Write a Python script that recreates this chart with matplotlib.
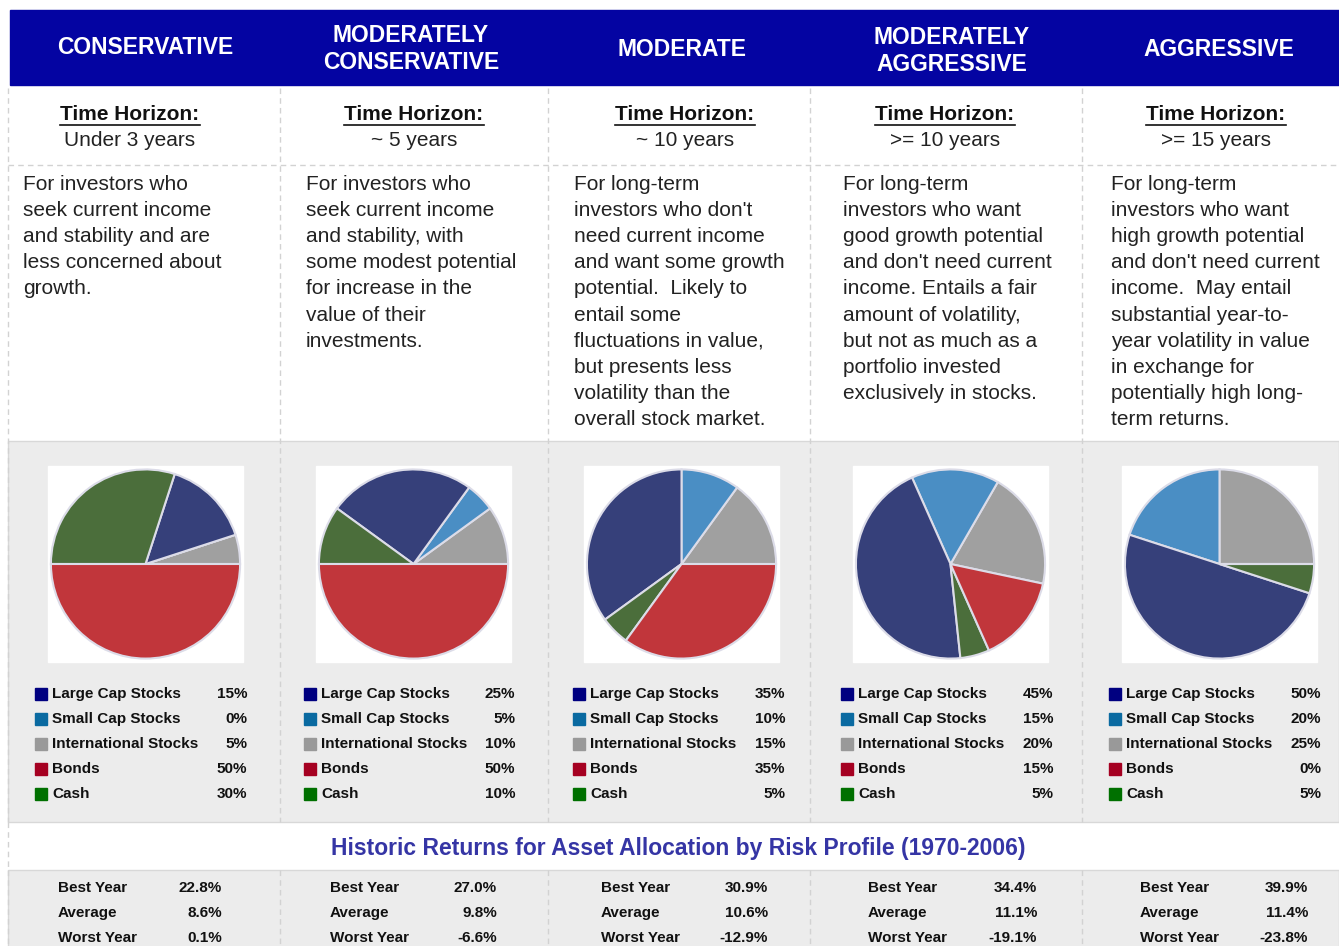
import matplotlib.pyplot as plt
from matplotlib.patches import Rectangle

# ---- data ----
profiles = ['CONSERVATIVE', 'MODERATELY\nCONSERVATIVE', 'MODERATE',
            'MODERATELY\nAGGRESSIVE', 'AGGRESSIVE']
horizons = ['Under 3 years', '~ 5 years', '~ 10 years', '>= 10 years', '>= 15 years']
descriptions = [
    ['For investors who', 'seek current income', 'and stability and are',
     'less concerned about', 'growth.'],
    ['For investors who', 'seek current income', 'and stability, with',
     'some modest potential', 'for increase in the', 'value of their', 'investments.'],
    ['For long-term', "investors who don't", 'need current income',
     'and want some growth', 'potential.  Likely to', 'entail some',
     'fluctuations in value,', 'but presents less', 'volatility than the',
     'overall stock market.'],
    ['For long-term', 'investors who want', 'good growth potential',
     "and don't need current", 'income. Entails a fair', 'amount of volatility,',
     'but not as much as a', 'portfolio invested', 'exclusively in stocks.'],
    ['For long-term', 'investors who want', 'high growth potential',
     "and don't need current", 'income.  May entail', 'substantial year-to-',
     'year volatility in value', 'in exchange for', 'potentially high long-',
     'term returns.'],
]
assets = ['Large Cap Stocks', 'Small Cap Stocks', 'International Stocks', 'Bonds', 'Cash']
large_cap = [15, 25, 35, 45, 50]
small_cap = [0, 5, 10, 15, 20]
intl = [5, 10, 15, 20, 25]
bonds = [50, 50, 35, 15, 0]
cash = [30, 10, 5, 5, 5]
stat_labels = ['Best Year', 'Average', 'Worst Year']
best_year = [22.8, 27.0, 30.9, 34.4, 39.9]
average = [8.6, 9.8, 10.6, 11.1, 11.4]
worst_year = [0.1, -6.6, -12.9, -19.1, -23.8]
title = 'Historic Returns for Asset Allocation by Risk Profile (1970-2006)'

# ---- layout (pixels) ----
W, H = 1339, 946
col_edges = [8, 280, 548, 810, 1082]
head_x = [145, 411, 682, 952, 1219]
head_y = [47, 49, 50, 51, 50]
th_x = [130, 414, 685, 945, 1216]
desc_x = [23, 306, 574, 843, 1111]
pie_box = [48, 316, 584, 853, 1122]
pie_start = [0, 0, 0, -12, 0]
leg_x = [35, 304, 573, 841, 1109]
leg_pct_x = [247, 515, 785, 1053, 1321]
stat_x = [58, 330, 601, 868, 1140]
stat_val_x = [222, 497, 768, 1037, 1308]

pie_colors = ['#36407a', '#4a8ec4', '#a0a0a0', '#c1363b', '#4b6e3b']
leg_colors = ['#000080', '#0a6aa1', '#999999', '#a50021', '#007000']
grid_col = '#d2d2d2'
band_col = '#ececec'

plt.rcParams['font.family'] = ['Liberation Sans', 'DejaVu Sans']

fig = plt.figure(figsize=(W / 100, H / 100), dpi=100)
ax = fig.add_axes([0, 0, 1, 1])
ax.set_xlim(0, W)
ax.set_ylim(H, 0)
ax.axis('off')

# backgrounds
ax.add_patch(Rectangle((10, 10), W - 10, 75, color='#0404a2', zorder=1))
ax.add_patch(Rectangle((8, 441), W - 8, 381, facecolor=band_col,
                       edgecolor='#d8d8d8', lw=1, zorder=1))
ax.add_patch(Rectangle((8, 870), W - 8, 80, facecolor=band_col,
                       edgecolor='#d8d8d8', lw=1, zorder=1))

# dashed grid lines
for x in col_edges:
    ax.plot([x, x], [88, 822], ls=(0, (4, 3)), color=grid_col, lw=1, zorder=2)
    ax.plot([x, x], [870, H], ls=(0, (4, 3)), color=grid_col, lw=1, zorder=2)
ax.plot([8, 8], [822, 870], ls=(0, (4, 3)), color=grid_col, lw=1, zorder=2)
ax.plot([8, W], [165, 165], ls=(0, (4, 3)), color=grid_col, lw=1, zorder=2)

fig.canvas.draw()
renderer = fig.canvas.get_renderer()

for i in range(5):
    # header
    ax.text(head_x[i], head_y[i], profiles[i], color='white', fontsize=16.5,
            fontweight='bold', ha='center', va='center', linespacing=1.25, zorder=3)
    # time horizon
    t = ax.text(th_x[i], 114, 'Time Horizon:', fontsize=15, fontweight='bold',
                ha='center', va='center', color='#111111', zorder=3)
    bb = t.get_window_extent(renderer)
    ax.plot([bb.x0, bb.x1], [125, 125], color='#111111', lw=1.2, zorder=3)
    ax.text(th_x[i], 140, horizons[i], fontsize=15, ha='center', va='center',
            color='#222222', zorder=3)
    # description
    for j, line in enumerate(descriptions[i]):
        ax.text(desc_x[i], 184.5 + 26.1 * j, line, fontsize=15, ha='left',
                va='center', color='#222222', zorder=3)

    # pie on a white square
    x0 = pie_box[i]
    ax.add_patch(Rectangle((x0, 466), 195, 196, color='white', zorder=2))
    pax = fig.add_axes([x0 / W, 1 - 662 / H, 195 / W, 196 / H])
    vals = [intl[i], small_cap[i], large_cap[i], cash[i], bonds[i]]
    cols = [pie_colors[2], pie_colors[1], pie_colors[0], pie_colors[4], pie_colors[3]]
    pax.pie(vals, colors=cols, startangle=pie_start[i], radius=0.97,
            wedgeprops=dict(edgecolor='#dcdce8', linewidth=1.5))
    pax.set_xlim(-1.0, 1.0)
    pax.set_ylim(-1.0, 1.0)
    pax.set_aspect('equal')
    pax.axis('off')

    # legend
    pcts = [large_cap[i], small_cap[i], intl[i], bonds[i], cash[i]]
    for k, name in enumerate(assets):
        y = 694 + 25 * k
        ax.add_patch(Rectangle((leg_x[i], y - 6), 12, 12, color=leg_colors[k], zorder=3))
        ax.text(leg_x[i] + 17, y, name, fontsize=11, fontweight='bold', ha='left',
                va='center', color='#111111', zorder=3)
        ax.text(leg_pct_x[i], y, f'{pcts[k]}%', fontsize=11, fontweight='bold',
                ha='right', va='center', color='#111111', zorder=3)

    # historic returns
    stats = [best_year[i], average[i], worst_year[i]]
    for k, lab in enumerate(stat_labels):
        y = 888 + 25 * k
        ax.text(stat_x[i], y, lab, fontsize=11, fontweight='bold', ha='left',
                va='center', color='#111111', zorder=3)
        ax.text(stat_val_x[i], y, f'{stats[k]:.1f}%', fontsize=11, fontweight='bold',
                ha='right', va='center', color='#111111', zorder=3)

ax.text(678, 848, title, fontsize=16.5, fontweight='bold', color='#3535a5',
        ha='center', va='center', zorder=3)

fig.savefig('out.png', dpi=100)
